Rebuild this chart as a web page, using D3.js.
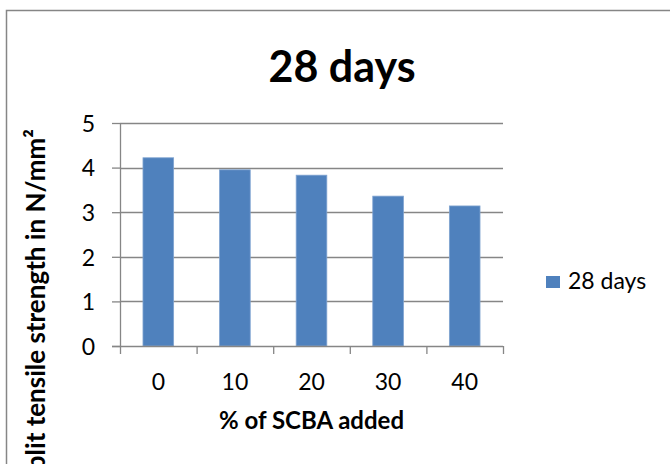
<!DOCTYPE html>
<html>
<head>
<meta charset="utf-8">
<script src="https://cdn.jsdelivr.net/npm/d3@7"></script>
<style>
  html, body { margin: 0; padding: 0; background: #fff; }
  svg { display: block; font-family: Lato, "Open Sans", sans-serif; }
</style>
</head>
<body>
<svg id="chart" width="670" height="464"></svg>
<script>
// Split tensile strength after 28 days of curing, by % of sugarcane bagasse ash
const categories = ["0", "10", "20", "30", "40"];
const strength = [4.22, 3.95, 3.83, 3.36, 3.14];
const yTicks = [0, 1, 2, 3, 4, 5];
const seriesName = "28 days";

const svg = d3.select("#chart");
const margin = { left: 120, right: 167, top: 123, bottom: 118 };
const W = 670, H = 464;
const plotW = W - margin.left - margin.right;
const plotH = H - margin.top - margin.bottom;

// chart frame
svg.append("rect")
  .attr("x", 6.5).attr("y", 10.5)
  .attr("width", 700).attr("height", 500)
  .attr("fill", "#fff").attr("stroke", "#868686").attr("stroke-width", 1.5);

const x = d3.scaleBand().domain(categories).range([0, plotW]);
const y = d3.scaleLinear().domain([0, 5]).range([plotH, 0]);

const g = svg.append("g").attr("transform", `translate(${margin.left},${margin.top})`);

// horizontal gridlines
g.selectAll(".grid").data(yTicks.filter(d => d > 0)).join("line")
  .attr("x1", 0).attr("x2", plotW)
  .attr("y1", d => Math.round(y(d)) + 0.5).attr("y2", d => Math.round(y(d)) + 0.5)
  .attr("stroke", "#868686").attr("stroke-width", 1.3);

// bars
const barW = x.bandwidth() * 0.4;
g.selectAll(".bar").data(strength).join("rect")
  .attr("x", (d, i) => x(categories[i]) + (x.bandwidth() - barW) / 2)
  .attr("y", d => y(d))
  .attr("width", barW)
  .attr("height", d => plotH - y(d))
  .attr("fill", "#4F81BD")
  .attr("stroke", "#7FA3D0").attr("stroke-width", 0.8);

// y axis
const yAxis = g.append("g").call(
  d3.axisLeft(y).tickValues(yTicks).tickSize(8).tickPadding(17).tickFormat(d3.format("d"))
);
yAxis.select(".domain").attr("stroke", "#868686").attr("stroke-width", 1.3)
  .attr("d", `M0.5,0V${plotH}`);
yAxis.selectAll(".tick line").attr("stroke", "#868686").attr("stroke-width", 1.3);
yAxis.selectAll(".tick text").attr("font-size", 23).attr("fill", "#000")
  .attr("font-family", "Lato, sans-serif").attr("dy", "0.36em");

// x axis: category ticks at band boundaries
const xAxis = g.append("g").attr("transform", `translate(0,${plotH})`);
xAxis.append("line").attr("x1", -8).attr("x2", plotW)
  .attr("y1", 0.5).attr("y2", 0.5)
  .attr("stroke", "#868686").attr("stroke-width", 1.3);
const boundaries = categories.map(c => x(c)).concat([plotW]);
xAxis.selectAll(".xt").data(boundaries).join("line")
  .attr("x1", d => d + 0.5).attr("x2", d => d + 0.5)
  .attr("y1", 0).attr("y2", 8)
  .attr("stroke", "#868686").attr("stroke-width", 1.3);
xAxis.selectAll(".xl").data(categories).join("text")
  .attr("x", d => x(d) + x.bandwidth() / 2)
  .attr("y", 44)
  .attr("text-anchor", "middle")
  .attr("font-size", 23)
  .text(d => d);

// axis titles
g.append("text")
  .attr("x", plotW / 2).attr("y", plotH + 83)
  .attr("text-anchor", "middle")
  .attr("font-size", 24).attr("font-weight", "bold")
  .text("% of SCBA added");

svg.append("text")
  .attr("transform", "translate(45,129) rotate(-90)")
  .attr("text-anchor", "end")
  .attr("font-size", 26).attr("font-weight", "bold")
  .text("Split tensile strength in N/mm²");

// chart title
svg.append("text")
  .attr("x", 342).attr("y", 82)
  .attr("text-anchor", "middle")
  .attr("font-size", 43).attr("font-weight", "bold")
  .text(seriesName);

// legend
const lg = svg.append("g").attr("transform", "translate(546,276)");
lg.append("rect").attr("width", 14).attr("height", 12).attr("fill", "#4F81BD");
lg.append("text").attr("x", 22).attr("y", 13).attr("font-size", 23).text(seriesName);
</script>
</body>
</html>
